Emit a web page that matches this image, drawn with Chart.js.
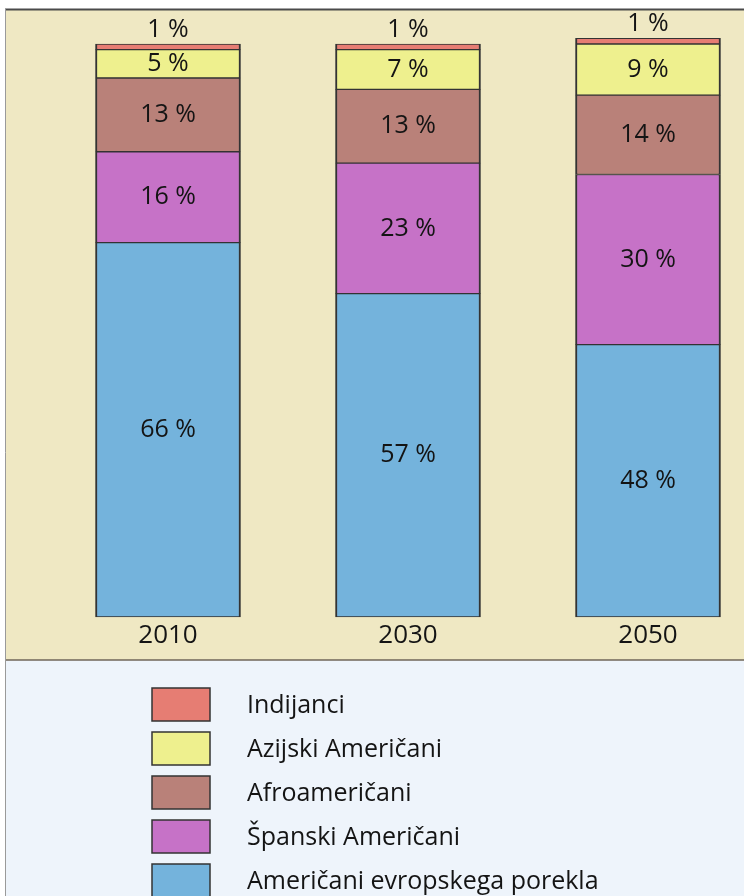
<!DOCTYPE html>
<html>
<head>
<meta charset="utf-8">
<script src="https://cdn.jsdelivr.net/npm/chart.js@4"></script>
<style>
  html, body { margin: 0; padding: 0; background: #eef4fb; }
  canvas { display: block; }
</style>
</head>
<body>
<canvas id="c" width="744" height="896"></canvas>
<script>
// ---- data ----
const years = ['2010', '2030', '2050'];
const evropskega = [66, 57, 48];   // Američani evropskega porekla
const spanski = [16, 23, 30];      // Španski Američani
const afro = [13, 13, 14];         // Afroameričani
const azijski = [5, 7, 9];         // Azijski Američani
const indijanci = [1, 1, 1];       // Indijanci
const names = ['Američani evropskega porekla', 'Španski Američani', 'Afroameričani', 'Azijski Američani', 'Indijanci'];
const colors = ['#74b3dc', '#c672c7', '#b98179', '#eef08e', '#e67d73'];

const FONT = "'Open Sans', 'DejaVu Sans', sans-serif";
const EDGE = '#333333';
const TEXT = '#141414';

const seriesData = [evropskega, spanski, afro, azijski, indijanci];
const datasets = seriesData.map((d, i) => ({
  label: names[i],
  data: d,
  backgroundColor: colors[i],
  borderColor: EDGE,
  borderWidth: { left: 2, right: 2, top: 1, bottom: 1 },
  borderSkipped: false,
  barThickness: 145,
  clip: false
}));

const bgPlugin = {
  id: 'bg',
  beforeDraw(chart) {
    const ctx = chart.ctx;
    ctx.save();
    ctx.fillStyle = '#eef4fb';
    ctx.fillRect(0, 0, 744, 896);
    ctx.fillStyle = '#ffffff';
    ctx.fillRect(0, 0, 744, 9);
    ctx.fillRect(0, 0, 5, 896);
    ctx.fillStyle = '#efe8c3';
    ctx.fillRect(6, 10, 738, 650);
    ctx.strokeStyle = '#4a4a4a';
    ctx.lineWidth = 2;
    ctx.beginPath(); ctx.moveTo(5, 9.5); ctx.lineTo(744, 9.5); ctx.stroke();
    ctx.strokeStyle = '#6f6658';
    ctx.lineWidth = 1.5;
    ctx.beginPath(); ctx.moveTo(5, 660); ctx.lineTo(744, 660); ctx.stroke();
    ctx.strokeStyle = '#9a9a9a';
    ctx.lineWidth = 1;
    ctx.beginPath(); ctx.moveTo(5.5, 9); ctx.lineTo(5.5, 896); ctx.stroke();
    ctx.restore();
  }
};

const labelPlugin = {
  id: 'vals',
  afterDatasetsDraw(chart) {
    const ctx = chart.ctx;
    ctx.save();
    ctx.font = '25px ' + FONT;
    ctx.fillStyle = TEXT;
    ctx.textAlign = 'center';
    ctx.textBaseline = 'middle';
    const n = chart.data.datasets.length;
    chart.data.datasets.forEach((ds, i) => {
      const meta = chart.getDatasetMeta(i);
      meta.data.forEach((el, j) => {
        const txt = ds.data[j] + ' %';
        if (i === n - 1) {
          ctx.fillText(txt, el.x, el.y - 14);
        } else {
          ctx.fillText(txt, el.x, (el.y + el.base) / 2);
        }
      });
    });
    ctx.restore();
  }
};

const legendPlugin = {
  id: 'legendCol',
  afterDraw(chart) {
    const ctx = chart.ctx;
    ctx.save();
    const dsets = chart.data.datasets.slice().reverse();
    dsets.forEach((ds, k) => {
      const top = 688 + k * 44;
      ctx.fillStyle = ds.backgroundColor;
      ctx.fillRect(152, top, 58, 33);
      ctx.strokeStyle = EDGE;
      ctx.lineWidth = 1.5;
      ctx.strokeRect(152, top, 58, 33);
      ctx.fillStyle = TEXT;
      ctx.font = '25px ' + FONT;
      ctx.textAlign = 'left';
      ctx.textBaseline = 'alphabetic';
      ctx.fillText(ds.label, 247, top + 25);
    });
    ctx.restore();
  }
};

new Chart(document.getElementById('c'), {
  type: 'bar',
  data: { labels: years, datasets },
  options: {
    responsive: false,
    animation: false,
    devicePixelRatio: 1,
    layout: { padding: { left: 168, right: 96, top: 44, bottom: 0 } },
    plugins: { legend: { display: false }, tooltip: { enabled: false } },
    scales: {
      x: {
        stacked: true,
        offset: false,
        grid: { display: false, drawTicks: false },
        border: { display: false },
        ticks: { color: TEXT, font: { family: FONT, size: 26 }, padding: 3, maxRotation: 0, autoSkip: false },
        afterFit(s) { s.height = 279; }
      },
      y: {
        stacked: true,
        display: false,
        min: 0,
        max: 101
      }
    }
  },
  plugins: [bgPlugin, labelPlugin, legendPlugin]
});
</script>
</body>
</html>
